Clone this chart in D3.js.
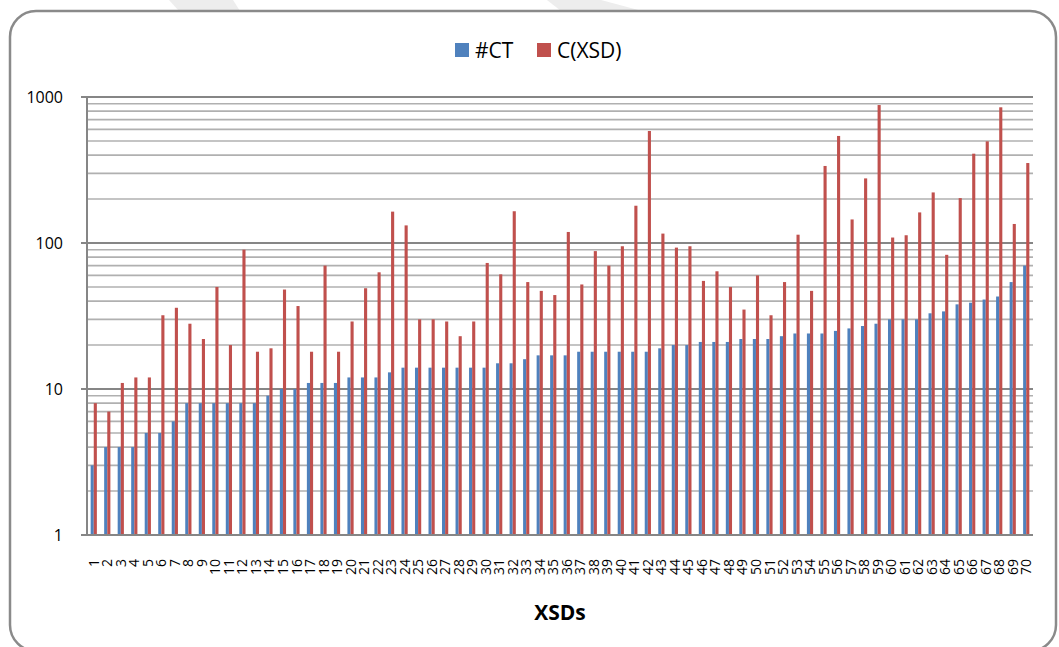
<!DOCTYPE html>
<html>
<head>
<meta charset="utf-8">
<script src="https://cdn.jsdelivr.net/npm/d3@7"></script>
<style>
  body { margin: 0; background: #fff; }
  text { font-family: 'Open Sans', 'Liberation Sans', sans-serif; }
</style>
</head>
<body>
<script>
const xsds = d3.range(1, 71).map(String);

const ctCounts = [3, 4, 4, 4, 5, 5, 6, 8, 8, 8, 8, 8, 8, 9,
  10, 10, 11, 11, 11, 12, 12, 12, 13, 14, 14, 14, 14, 14,
  14, 14, 15, 15, 16, 17, 17, 17, 18, 18, 18, 18, 18, 18,
  19, 20, 20, 21, 21, 21, 22, 22, 22, 23, 24, 24, 24, 25,
  26, 27, 28, 30, 30, 30, 33, 34, 38, 39, 41, 43, 54, 70];

const cxsdValues = [8, 7, 11, 12, 12, 32, 36, 28, 22, 50, 20, 90, 18, 19,
  48, 37, 18, 70, 18, 29, 49, 63, 164, 132, 30, 30, 29, 23,
  29, 73, 61, 165, 54, 47, 44, 119, 52, 88, 70, 95, 180, 585,
  116, 93, 95, 55, 64, 50, 35, 60, 32, 54, 114, 47, 337, 541,
  145, 277, 881, 109, 113, 162, 222, 83, 203, 409, 497, 850, 135, 353];

const seriesNames = ['#CT', 'C(XSD)'];
const seriesColors = ['#4f81bd', '#c0504d'];
const yTicks = [1, 10, 100, 1000];

const width = 1059, height = 647;
const margin = { left: 87, right: 26, top: 97, bottom: 112 };

const svg = d3.select('body')
  .append('svg')
  .attr('width', width)
  .attr('height', height);

// faint background shapes above the card
svg.append('polygon')
  .attr('points', '169,0 233,0 240,11 179,11')
  .attr('fill', '#ededed');
svg.append('polygon')
  .attr('points', '547,0 601,0 642,11 561,11')
  .attr('fill', '#ededed');

// card
svg.append('rect')
  .attr('x', 10).attr('y', 11)
  .attr('width', 1046).attr('height', 640)
  .attr('rx', 26).attr('ry', 26)
  .attr('fill', '#fff')
  .attr('stroke', '#8a8a8a')
  .attr('stroke-width', 2.5);

const x0 = d3.scaleBand()
  .domain(xsds)
  .range([margin.left, width - margin.right])
  .paddingInner(0.54)
  .paddingOuter(0.27);

const x1 = d3.scaleBand()
  .domain(seriesNames)
  .range([0, x0.bandwidth()]);

const y = d3.scaleLog()
  .domain([1, 1000])
  .range([height - margin.bottom, margin.top]);

//gridlines, minor first then major
const minor = [];
[1, 10, 100].forEach(d => d3.range(2, 10).forEach(k => minor.push(d * k)));

svg.append('g').selectAll('line')
  .data(minor)
  .enter().append('line')
  .attr('x1', margin.left).attr('x2', width - margin.right)
  .attr('y1', d => y(d)).attr('y2', d => y(d))
  .attr('stroke', '#b0b0b0')
  .attr('stroke-width', 1.6);

svg.append('g').selectAll('line')
  .data(yTicks)
  .enter().append('line')
  .attr('x1', margin.left - 6).attr('x2', width - margin.right)
  .attr('y1', d => y(d)).attr('y2', d => y(d))
  .attr('stroke', '#868686')
  .attr('stroke-width', 2);

//y labels
svg.append('g').selectAll('text')
  .data(yTicks)
  .enter().append('text')
  .attr('x', 63)
  .attr('y', d => y(d))
  .attr('dy', '0.36em')
  .attr('text-anchor', 'end')
  .style('font-size', '16px')
  .text(d => d);

//bars
const rows = xsds.map((c, i) => ({ c, vals: [ctCounts[i], cxsdValues[i]] }));

const groups = svg.append('g').selectAll('g')
  .data(rows)
  .enter().append('g')
  .attr('transform', d => `translate(${x0(d.c)},0)`);

groups.selectAll('rect')
  .data(d => d.vals.map((v, j) => ({ v, s: seriesNames[j], j })))
  .enter().append('rect')
  .attr('x', d => x1(d.s))
  .attr('y', d => y(d.v))
  .attr('width', x1.bandwidth())
  .attr('height', d => y(1) - y(d.v))
  .attr('fill', d => seriesColors[d.j]);

//axis lines
svg.append('line')
  .attr('x1', margin.left).attr('x2', margin.left)
  .attr('y1', margin.top - 1).attr('y2', y(1))
  .attr('stroke', '#868686').attr('stroke-width', 2);

svg.append('line')
  .attr('x1', margin.left).attr('x2', width - margin.right)
  .attr('y1', y(1)).attr('y2', y(1))
  .attr('stroke', '#868686').attr('stroke-width', 2);

//x labels, rotated
svg.append('g').selectAll('text')
  .data(xsds)
  .enter().append('text')
  .attr('transform', d => `translate(${x0(d) + x0.bandwidth() / 2},${y(1) + 24}) rotate(-90)`)
  .attr('dy', '0.36em')
  .attr('text-anchor', 'end')
  .style('font-size', '14px')
  .text(d => d);

//axis title
svg.append('text')
  .attr('x', 560)
  .attr('y', 620)
  .attr('text-anchor', 'middle')
  .style('font-size', '21px')
  .style('font-weight', 700)
  .text('XSDs');

//legend
const legendX = [455, 537];
const legend = svg.append('g');
seriesNames.forEach((name, i) => {
  legend.append('rect')
    .attr('x', legendX[i]).attr('y', 43)
    .attr('width', 14).attr('height', 14)
    .attr('fill', seriesColors[i]);
  legend.append('text')
    .attr('x', legendX[i] + 20)
    .attr('y', 58)
    .style('font-size', '21px')
    .text(name);
});
</script>
</body>
</html>
